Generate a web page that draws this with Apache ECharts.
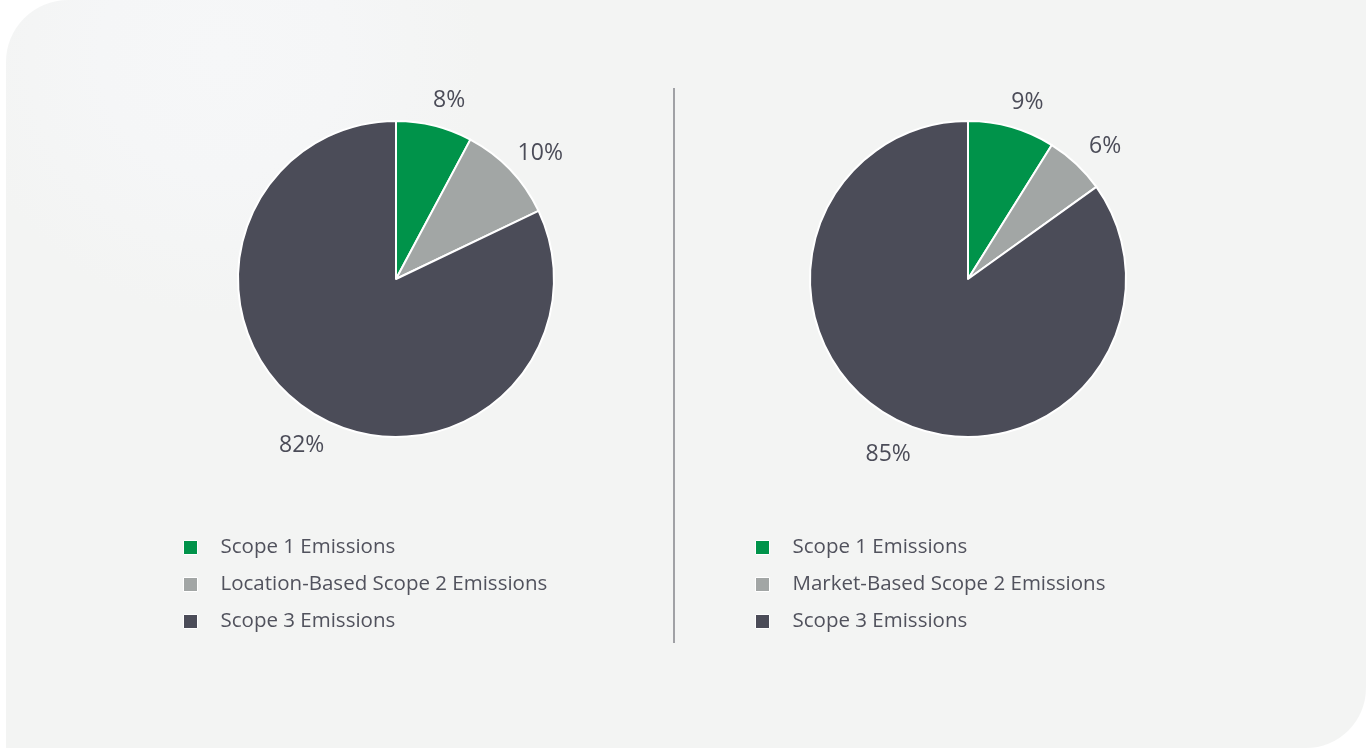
<!DOCTYPE html>
<html>
<head>
<meta charset="utf-8">
<script src="https://cdn.jsdelivr.net/npm/echarts@6/dist/echarts.min.js"></script>
<style>
  html, body { margin: 0; padding: 0; background: #ffffff; }
  #card {
    position: absolute; left: 6px; top: 0; width: 1360px; height: 748px;
    border-radius: 62px 0 60px 0;
    background: radial-gradient(circle at 215px 55px, #f6f7f8 0px, #f5f6f7 120px, #f3f4f3 260px, #f3f4f3 100%);
  }
  #chart { position: absolute; left: 0; top: 0; width: 1367px; height: 748px; }
</style>
</head>
<body>
<div id="card"></div>
<div id="chart"></div>
<script>
var leftNames = ['Scope 1 Emissions', 'Location-Based Scope 2 Emissions', 'Scope 3 Emissions'];
var leftValues = [7.8, 10.1, 82.1];
var rightNames = ['Scope 1 Emissions', 'Market-Based Scope 2 Emissions', 'Scope 3 Emissions'];
var rightValues = [8.9, 6.2, 84.9];
var colors = ['#00934a', '#a2a6a5', '#4b4c58'];

function toData(names, values) {
  return names.map(function (n, i) {
    return { name: n, value: values[i], itemStyle: { color: colors[i] } };
  });
}

var FONT = '"Open Sans", Lato, sans-serif';

function pieSeries(names, values, cx) {
  return {
    type: 'pie',
    center: [cx, 279],
    radius: [0, 158],
    startAngle: 90,
    clockwise: true,
    avoidLabelOverlap: false,
    percentPrecision: 0,
    silent: true,
    itemStyle: { borderColor: '#ffffff', borderWidth: 2 },
    label: {
      show: true,
      position: 'outside',
      formatter: '{d}%',
      color: '#4b4c58',
      fontFamily: FONT,
      fontSize: 23,
      fontWeight: 400
    },
    labelLine: { show: false, length: 32, length2: 0 },
    labelLayout: function (p) {
      var r = p.labelRect;
      var ax = p.align === 'left' ? r.x - 5 : r.x + r.width + 5;
      return { x: ax + 7, y: r.y + r.height / 2 + 6, align: 'center', verticalAlign: 'middle' };
    },
    emphasis: { disabled: true },
    data: toData(names, values)
  };
}

var chart = echarts.init(document.getElementById('chart'), null, { renderer: 'canvas' });
var legendBase = {
  orient: 'vertical',
  top: 537,
  padding: 0,
  icon: 'rect',
  itemWidth: 14,
  itemHeight: 14,
  itemGap: 16,
  selectedMode: false,
  itemStyle: { borderColor: '#ffffff', borderWidth: 1 },
  textStyle: { color: '#51525d', fontFamily: FONT, fontSize: 20.5, lineHeight: 21, padding: [0, 0, 0, 18] }
};
chart.setOption({
  backgroundColor: 'transparent',
  animation: false,
  legend: [
    Object.assign({}, legendBase, { left: 183, data: leftNames }),
    Object.assign({}, legendBase, { left: 755, data: rightNames })
  ],
  graphic: [{
    type: 'line',
    shape: { x1: 674, y1: 88, x2: 674, y2: 643 },
    style: { stroke: '#84868b', lineWidth: 1.5 }
  }],
  series: [
    pieSeries(leftNames, leftValues, 396),
    pieSeries(rightNames, rightValues, 968)
  ]
});
</script>
</body>
</html>
